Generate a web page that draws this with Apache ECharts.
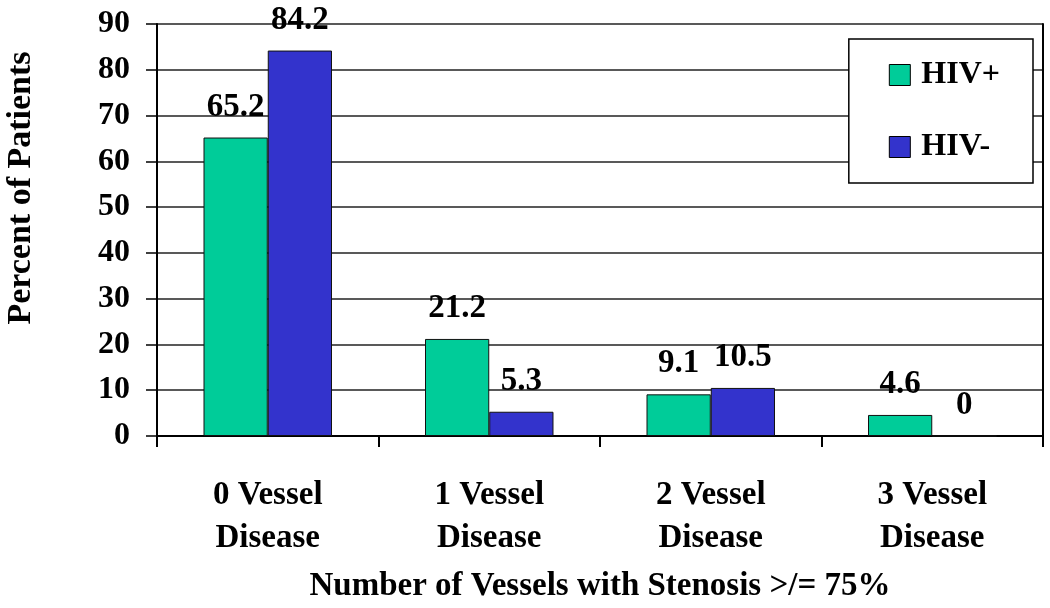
<!DOCTYPE html>
<html>
<head>
<meta charset="utf-8">
<script src="https://cdn.jsdelivr.net/npm/echarts@6/dist/echarts.min.js"></script>
<style>html,body{margin:0;padding:0;background:#fff;}#c{width:1050px;height:608px;}</style>
</head>
<body>
<div id="c"></div>
<script>
const categories = ['0 Vessel\nDisease', '1 Vessel\nDisease', '2 Vessel\nDisease', '3 Vessel\nDisease'];
const hivPos = [65.2, 21.2, 9.1, 4.6];
const hivNeg = [84.2, 5.3, 10.5, 0];
const seriesNames = ['HIV+', 'HIV-'];
const yTitle = 'Percent of Patients';
const xTitle = 'Number of Vessels with Stenosis >/= 75%';

const FONT = '"Liberation Serif", "Times New Roman", serif';
const chart = echarts.init(document.getElementById('c'));
const labelCfg = {
  show: true, position: 'top', distance: 14,
  fontFamily: FONT, fontWeight: 'bold', fontSize: 33, color: '#000'
};
chart.setOption({
  animation: false,
  backgroundColor: '#fff',
  grid: { left: 157, top: 24, right: 7, bottom: 172, containLabel: false, outerBoundsMode: 'none' },
  legend: {
    data: seriesNames,
    orient: 'vertical',
    right: 17, top: 39,
    padding: [20, 33, 20, 40],
    itemWidth: 21, itemHeight: 21, itemGap: 40,
    icon: 'rect',
    backgroundColor: '#fff',
    borderColor: '#000', borderWidth: 1.5,
    textStyle: { fontFamily: FONT, fontWeight: 'bold', fontSize: 32, color: '#000', padding: [0, 0, 0, 6] },
    itemStyle: { borderColor: '#000', borderWidth: 1 }
  },
  xAxis: {
    type: 'category', data: categories,
    name: xTitle, nameLocation: 'middle', nameGap: 134,
    nameTextStyle: { fontFamily: FONT, fontWeight: 'bold', fontSize: 33, color: '#000' },
    axisLine: { lineStyle: { color: '#000', width: 2 } },
    axisTick: { show: true, length: 11, lineStyle: { color: '#000', width: 2 } },
    axisLabel: { fontFamily: FONT, fontWeight: 'bold', fontSize: 33, color: '#000', margin: 38, lineHeight: 43 }
  },
  yAxis: [{
    type: 'value', min: 0, max: 90, interval: 10,
    axisLine: { show: true, lineStyle: { color: '#000', width: 2 } },
    axisTick: { show: true, length: 11, lineStyle: { color: '#000', width: 1.5 } },
    axisLabel: { fontFamily: FONT, fontWeight: 'bold', fontSize: 32, color: '#000', margin: 27 },
    splitLine: { show: true, lineStyle: { color: '#222', width: 1.5 } }
  }, {
    type: 'value', min: 0, max: 90, interval: 10, position: 'right',
    axisLine: { show: true, lineStyle: { color: '#000', width: 2 } },
    axisTick: { show: false }, axisLabel: { show: false }, splitLine: { show: false }
  }],
  graphic: [{
    type: 'text', x: 21, y: 188, rotation: Math.PI / 2,
    style: { text: yTitle, x: 0, y: 0, fontFamily: FONT, fontWeight: 'bold', fontSize: 34, fill: '#000', align: 'center', verticalAlign: 'middle' }
  }],
  series: [{
    name: seriesNames[0], type: 'bar', data: hivPos,
    barGap: '0%', barCategoryGap: '42%',
    itemStyle: { color: '#00CC99', borderColor: '#111', borderWidth: 1 },
    label: labelCfg
  }, {
    name: seriesNames[1], type: 'bar', data: hivNeg,
    itemStyle: { color: '#3333CC', borderColor: '#111', borderWidth: 1 },
    label: labelCfg
  }]
});
</script>
</body>
</html>
